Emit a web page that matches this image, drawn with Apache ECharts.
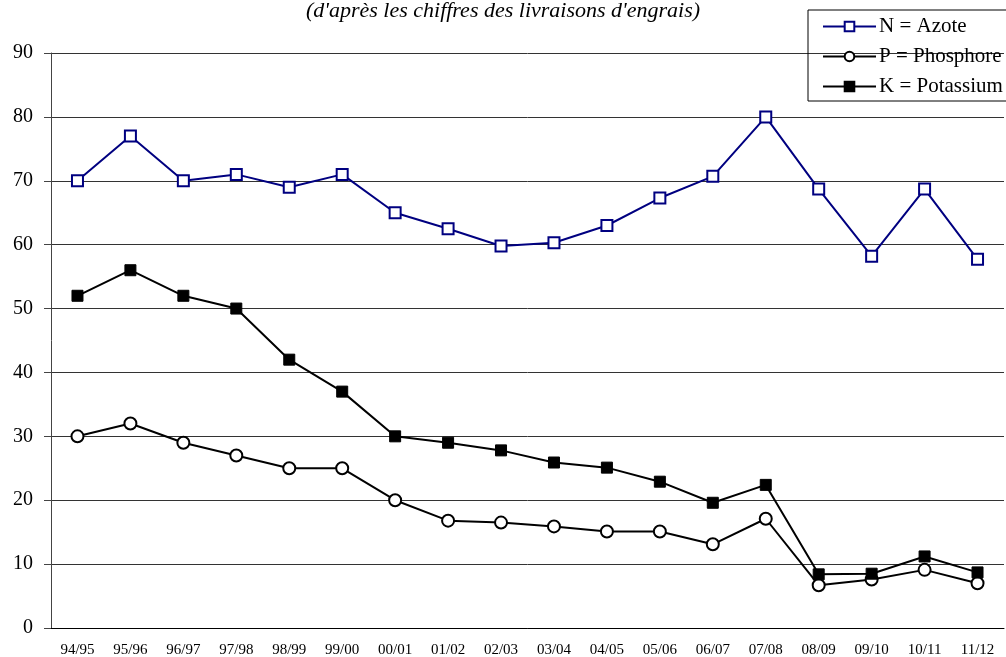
<!DOCTYPE html>
<html>
<head>
<meta charset="utf-8">
<script src="https://cdn.jsdelivr.net/npm/echarts@6/dist/echarts.min.js"></script>
<style>
  html, body { margin: 0; padding: 0; background: #fff; }
  #chart { width: 1006px; height: 657px; }
</style>
</head>
<body>
<div id="chart"></div>
<script>
var campagnes = ['94/95', '95/96', '96/97', '97/98', '98/99', '99/00', '00/01', '01/02', '02/03',
  '03/04', '04/05', '05/06', '06/07', '07/08', '08/09', '09/10', '10/11', '11/12'];
var azote = [70, 77, 70, 71, 69, 71, 65, 62.5, 59.8, 60.3, 63, 67.3, 70.7, 80, 68.7, 58.2, 68.7, 57.7];
var phosphore = [30, 32, 29, 27, 25, 25, 20, 16.8, 16.5, 15.9, 15.1, 15.1, 13.1, 17.1, 6.7, 7.6, 9.1, 7];
var potassium = [52, 56, 52, 50, 42, 37, 30, 29, 27.8, 25.9, 25.1, 22.9, 19.6, 22.4, 8.4, 8.5, 11.2, 8.7];

var serif = '"Liberation Serif", "DejaVu Serif", serif';
var chart = echarts.init(document.getElementById('chart'));

chart.setOption({
  backgroundColor: '#fff',
  animation: false,
  title: {
    text: "(d'après les chiffres des livraisons d'engrais)",
    left: 'center',
    top: -5,
    textStyle: { fontFamily: serif, fontStyle: 'italic', fontWeight: 'normal', fontSize: 22, color: '#000' }
  },
  legend: {
    orient: 'vertical',
    left: 808,
    top: 10,
    padding: [6, 10, 4, 14],
    itemGap: 9,
    itemWidth: 53,
    itemHeight: 12,
    borderColor: '#000',
    borderWidth: 1,
    lineStyle: { width: 2 },
    textStyle: { fontFamily: serif, fontSize: 21, color: '#000', padding: [0, 0, 0, -2] },
    data: ['N = Azote', 'P = Phosphore', 'K = Potassium']
  },
  grid: { left: 51, right: 2, top: 53, bottom: 29, containLabel: false, outerBoundsMode: 'none' },
  xAxis: {
    type: 'category',
    data: campagnes,
    boundaryGap: true,
    axisLine: { lineStyle: { color: '#000', width: 1 } },
    axisTick: { show: false },
    axisLabel: { fontFamily: serif, fontSize: 15, color: '#000', margin: 15 }
  },
  yAxis: {
    type: 'value',
    min: 0,
    max: 90,
    interval: 10,
    axisLine: { show: true, lineStyle: { color: '#444' } },
    axisTick: { show: true, length: 7, lineStyle: { color: '#444' } },
    axisLabel: { fontFamily: serif, fontSize: 20, color: '#000', margin: 18 },
    splitLine: { lineStyle: { color: '#333', width: 1 } }
  },
  series: [
    {
      name: 'N = Azote',
      type: 'line',
      data: azote,
      symbol: 'rect',
      symbolSize: 11,
      lineStyle: { color: '#000080', width: 2 },
      itemStyle: { color: '#fff', borderColor: '#000080', borderWidth: 2 }
    },
    {
      name: 'P = Phosphore',
      type: 'line',
      data: phosphore,
      symbol: 'circle',
      symbolSize: 12,
      lineStyle: { color: '#000', width: 2 },
      itemStyle: { color: '#fff', borderColor: '#000', borderWidth: 2 }
    },
    {
      name: 'K = Potassium',
      type: 'line',
      data: potassium,
      symbol: 'rect',
      symbolSize: 11,
      lineStyle: { color: '#000', width: 2 },
      itemStyle: { color: '#000', borderColor: '#000', borderWidth: 1 }
    }
  ]
});
</script>
</body>
</html>
